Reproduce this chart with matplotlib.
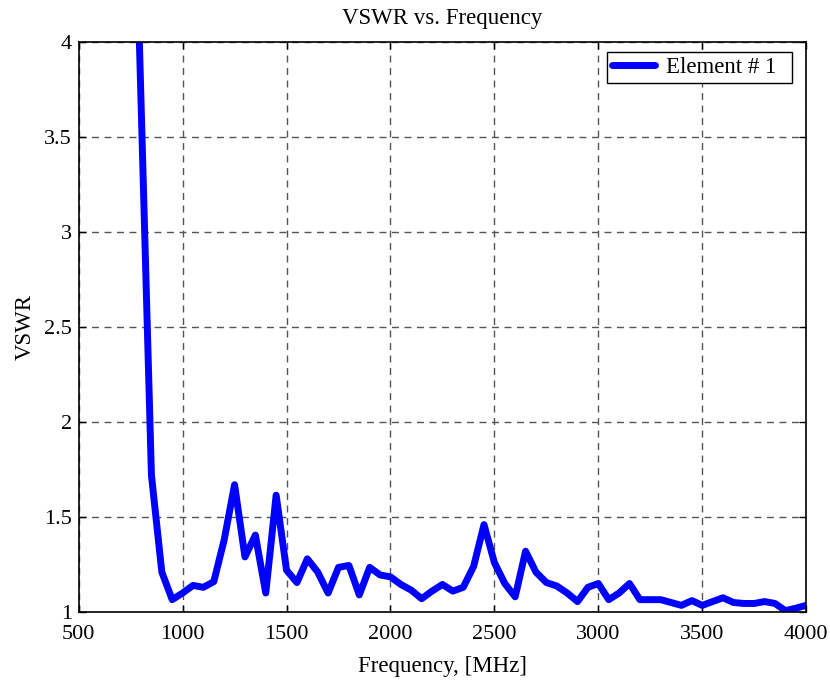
import numpy as np
import matplotlib
matplotlib.use('Agg')
import matplotlib.pyplot as plt

freq = [750, 850, 900, 950, 1000, 1050, 1100, 1150, 1200, 1250, 1300, 1350,
        1400, 1450, 1500, 1550, 1600, 1650, 1700, 1750, 1800, 1850, 1900,
        1950, 2000, 2050, 2100, 2150, 2200, 2250, 2300, 2350, 2400, 2450,
        2500, 2550, 2600, 2650, 2700, 2750, 2800, 2850, 2900, 2950, 3000,
        3050, 3100, 3150, 3200, 3250, 3300, 3350, 3400, 3450, 3500, 3550,
        3600, 3650, 3700, 3750, 3800, 3850, 3900, 3950, 4000]
vswr = [5.65, 1.72, 1.21, 1.065, 1.10, 1.14, 1.13, 1.16, 1.38, 1.67, 1.29, 1.405,
        1.10, 1.615, 1.22, 1.155, 1.28, 1.21, 1.10, 1.235, 1.245, 1.09, 1.235,
        1.195, 1.185, 1.145, 1.115, 1.07, 1.11, 1.145, 1.11, 1.13, 1.24, 1.46,
        1.26, 1.15, 1.08, 1.32, 1.21, 1.155, 1.137, 1.10, 1.055, 1.13, 1.15,
        1.065, 1.10, 1.15, 1.065, 1.065, 1.065, 1.05, 1.035, 1.06, 1.035, 1.055,
        1.075, 1.05, 1.045, 1.045, 1.055, 1.045, 1.007, 1.02, 1.035]

xticks = [500, 1000, 1500, 2000, 2500, 3000, 3500, 4000]
yticks = [1, 1.5, 2, 2.5, 3, 3.5, 4]
ytick_labels = ['1', '1.5', '2', '2.5', '3', '3.5', '4']

plt.rcParams['font.family'] = ['Liberation Serif', 'DejaVu Serif']
plt.rcParams['font.size'] = 16.5

fig = plt.figure(figsize=(8.3, 6.81), dpi=100)
ax = fig.add_axes([0.0948, 0.1013, 0.8765, 0.837])

ax.plot(freq, vswr, color='#0000ff', linewidth=5, label='Element # 1  ',
        solid_joinstyle='round', solid_capstyle='round')

ax.set_xlim(500, 4000)
ax.set_ylim(1, 4)
ax.set_xticks(xticks)
ax.set_yticks(yticks)
ax.set_yticklabels(ytick_labels)
ax.tick_params(direction='in', top=True, right=True, length=5, width=1,
               labelsize=16)
ax.tick_params(axis='x', pad=9)
ax.tick_params(axis='y', pad=5)
ax.grid(True, color='#555555', linestyle=(0, (5, 4)), linewidth=1)
for s in ax.spines.values():
    s.set_linewidth(1.2)

ax.set_title('VSWR vs. Frequency', fontsize=16.5, pad=13)
ax.set_xlabel('Frequency, [MHz]', fontsize=16.5, labelpad=9)
ax.set_ylabel('VSWR', fontsize=16.5, labelpad=6)

leg = ax.legend(loc='upper right', bbox_to_anchor=(0.981, 0.9825),
                borderaxespad=0, fancybox=False, edgecolor='black',
                framealpha=1, fontsize=16.5, handlelength=1.9,
                handletextpad=0.45, borderpad=0.22)
leg.get_frame().set_linewidth(1)

fig.savefig('out.png', dpi=100)
